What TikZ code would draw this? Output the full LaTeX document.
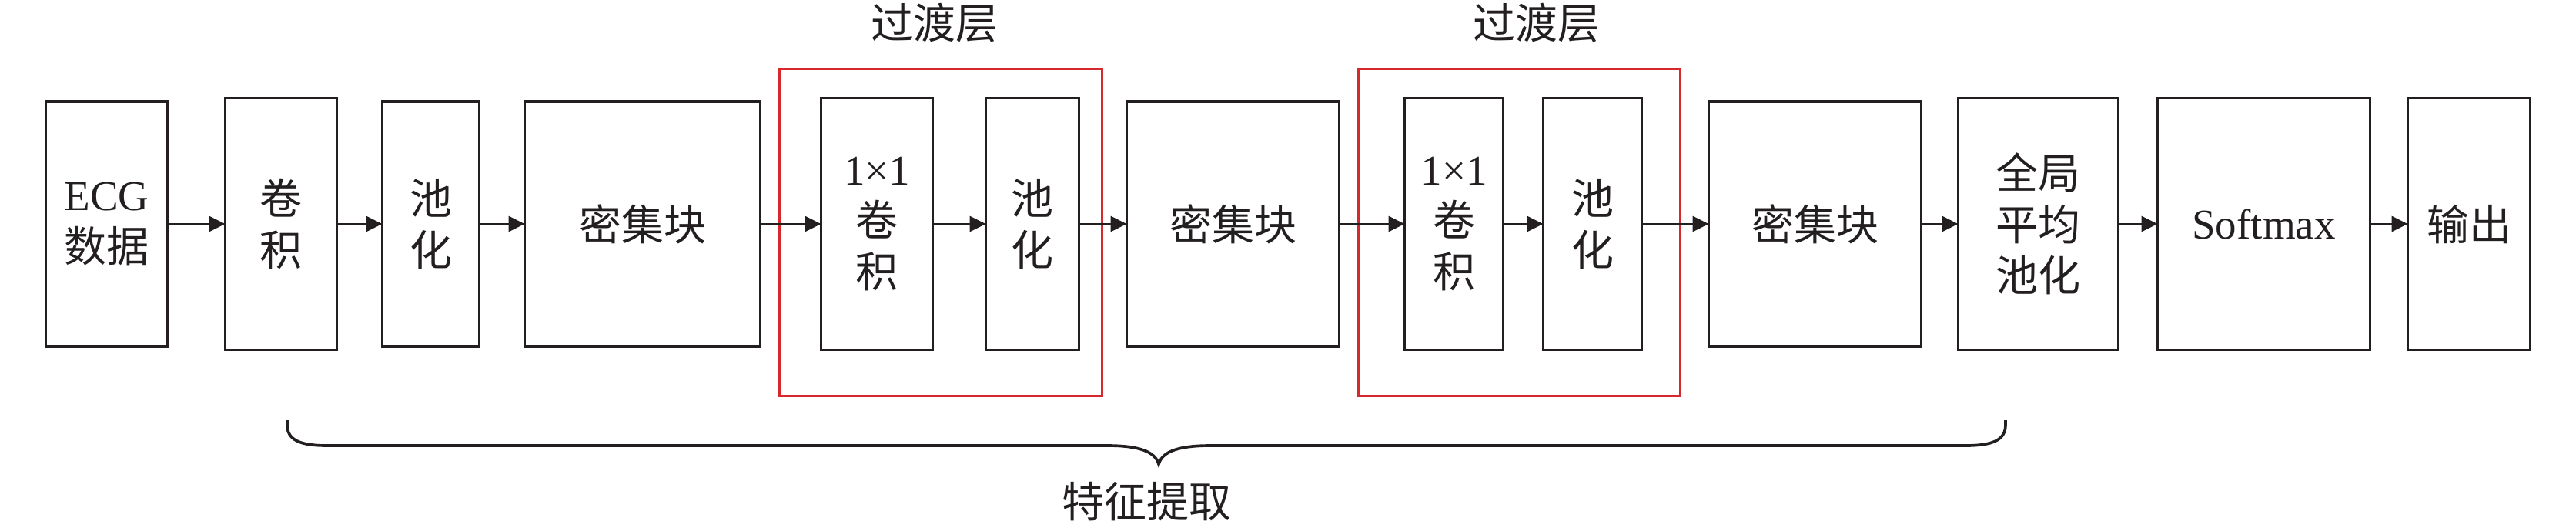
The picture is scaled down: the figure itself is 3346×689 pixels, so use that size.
\documentclass[tikz,border=0pt]{standalone}
\usepackage{fontspec}
\setmainfont{Liberation Serif}
\newfontfamily\cjk{Noto Sans CJK SC}
\usetikzlibrary{arrows.meta}
\definecolor{ink}{RGB}{35,31,32}
\definecolor{redline}{RGB}{215,40,46}
\begin{document}
\begin{tikzpicture}[x=0.3pt,y=-0.3pt,
  bx/.style 2 args={draw=ink, line width=1pt, minimum width=#1*0.3pt, minimum height=#2*0.3pt,
    inner sep=0pt, outer sep=0pt, align=center, text=ink, font=\fontsize{16.5}{20}\selectfont},
  cbx/.style 2 args={bx={#1}{#2}, font=\fontsize{16.5}{20}\selectfont\cjk},
  grp/.style 2 args={draw=redline, line width=0.8pt, minimum width=#1*0.3pt, minimum height=#2*0.3pt,
    inner sep=0pt, outer sep=0pt},
  arr/.style={draw=ink, line width=0.9pt, -{Triangle[length=6.3pt,width=6pt]}},
  lbl/.style={text=ink, inner sep=0pt, font=\fontsize{16.5}{20}\selectfont\cjk},
  brc/.style={draw=ink, line width=1.1pt}]
\useasboundingbox (0,0) rectangle (3346,689);
% transition-layer frames
\node[grp={419}{425}] (red1) at (1222,302) {};
\node[grp={418}{425}] (red2) at (1973.5,302) {};
\node[lbl] (t1) at (1214,30) {过渡层};
\node[lbl] (t2) at (1996,30) {过渡层};
% blocks
\node[bx={158}{318}] (ecg) at (138.5,291) {ECG\\{\cjk 数据}};
\node[cbx={145}{327}] (conv) at (365,291) {卷\\积};
\node[cbx={126}{318}] (pool1) at (559.5,291) {池\\化};
\node[cbx={306}{318}] (dense1) at (834.5,291) {密集块};
\node[bx={145}{327}] (c1) at (1139,291) {1×1\\{\cjk 卷}\\{\cjk 积}};
\node[cbx={121}{327}] (p1) at (1341,291) {池\\化};
\node[cbx={276}{318}] (dense2) at (1601.5,291) {密集块};
\node[bx={128}{327}] (c2) at (1888.5,291) {1×1\\{\cjk 卷}\\{\cjk 积}};
\node[cbx={128}{327}] (p2) at (2068.5,291) {池\\化};
\node[cbx={276}{318}] (dense3) at (2357.5,291) {密集块};
\node[cbx={208}{327}] (gap) at (2647.5,291) {全局\\平均\\池化};
\node[bx={276}{327}] (soft) at (2940.5,291) {Softmax};
\node[cbx={159}{327}] (out) at (3207,291) {输出};
% connectors
\draw[arr] (ecg) -- (conv);
\draw[arr] (conv) -- (pool1);
\draw[arr] (pool1) -- (dense1);
\draw[arr] (dense1) -- (c1);
\draw[arr] (c1) -- (p1);
\draw[arr] (p1) -- (dense2);
\draw[arr] (dense2) -- (c2);
\draw[arr] (c2) -- (p2);
\draw[arr] (p2) -- (dense3);
\draw[arr] (dense3) -- (gap);
\draw[arr] (gap) -- (soft);
\draw[arr] (soft) -- (out);
% brace
\coordinate (bl) at (373,546);
\coordinate (br) at (2605,546);
\coordinate (tip) at (1505,603);
\draw[brc] (bl) -- (373,552) .. controls (373,572) and (390,579) .. (425,579) -- (1437,579)
  .. controls (1478,579) and (1500,586) .. (tip)
  .. controls (1510,586) and (1532,579) .. (1573,579) -- (2553,579)
  .. controls (2588,579) and (2605,572) .. (2605,552) -- (br);
\node[lbl] (feat) at (1489,652) {特征提取};
\end{tikzpicture}
\end{document}
